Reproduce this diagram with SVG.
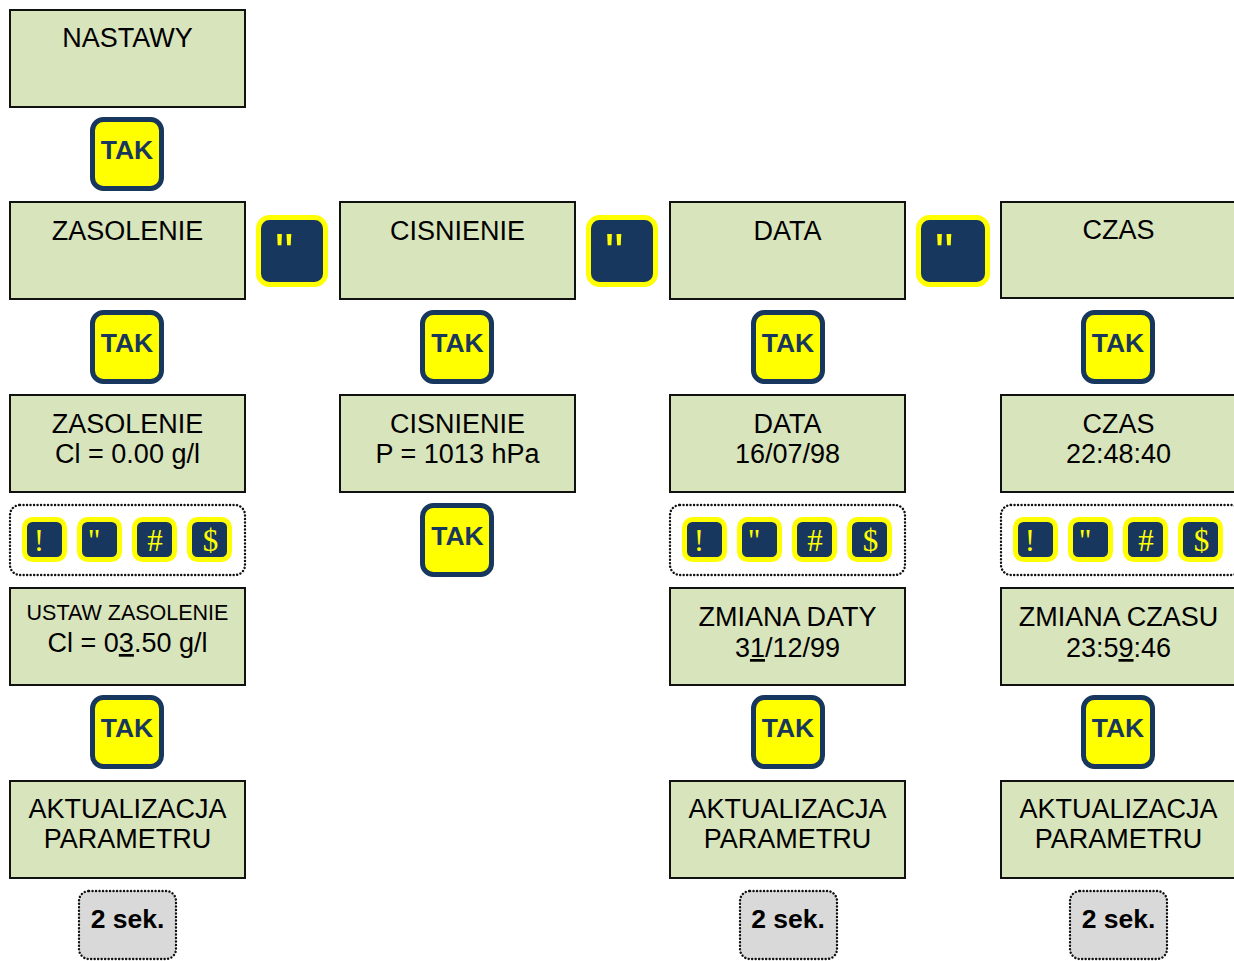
<svg xmlns="http://www.w3.org/2000/svg" width="1234" height="961" viewBox="0 0 1234 961">
<style>
.box{fill:#d8e4bc;stroke:#111;stroke-width:2}
.t{font-family:"Liberation Sans",Arial,sans-serif;font-size:27px;fill:#000;text-anchor:middle}
.ts{font-family:"Liberation Sans",Arial,sans-serif;font-size:21.5px;fill:#000;text-anchor:middle}
.tak{fill:#ffff00;stroke:#17375e;stroke-width:5}
.takt{font-family:"Liberation Sans",Arial,sans-serif;font-size:26.5px;font-weight:bold;fill:#17375e;text-anchor:middle}
.key{fill:#17375e;stroke:#ffff00;stroke-width:5}
.bq{font-family:"Liberation Sans",Arial,sans-serif;font-size:52px;fill:#ffff00}
.kg{font-family:"Liberation Serif","Times New Roman",serif;font-size:31px;fill:#ffff00;text-anchor:middle}
.dot{fill:none;stroke:#111;stroke-width:2.4;stroke-linecap:round;stroke-dasharray:0.1 3.4}
.sek{fill:#d9d9d9;stroke:#111;stroke-width:2.4;stroke-linecap:round;stroke-dasharray:0.1 3.4}
.sekt{font-family:"Liberation Sans",Arial,sans-serif;font-size:26.5px;font-weight:bold;fill:#000;text-anchor:middle}
</style>
<rect width="1234" height="961" fill="#fff"/>
<g id="connectors"/>

<!-- Column 1 -->
<g id="nastawy"><rect class="box" x="10" y="10" width="235" height="97"/><text class="t" x="127.5" y="47">NASTAWY</text></g>
<g id="tak1"><rect class="tak" x="92.5" y="119.5" width="69" height="69" rx="11"/><text class="takt" x="127" y="159">TAK</text></g>
<g id="zasolenie"><rect class="box" x="10" y="202" width="235" height="97"/><text class="t" x="127.5" y="240">ZASOLENIE</text></g>
<g id="key-next-1"><rect class="key" x="258.5" y="217.5" width="67" height="67" rx="11"/><text class="bq" x="275" y="270">"</text></g>
<g id="tak2"><rect class="tak" x="92.5" y="312.5" width="69" height="69" rx="11"/><text class="takt" x="127" y="352">TAK</text></g>
<g id="zasolenie-val"><rect class="box" x="10" y="395" width="235" height="97"/><text class="t" x="127.5" y="433">ZASOLENIE</text><text class="t" x="127.5" y="463">Cl = 0.00 g/l</text></g>
<g id="keys-1">
<rect class="dot" x="10" y="505" width="235" height="70" rx="10"/>
<rect class="key" x="24.5" y="519.5" width="40" height="40" rx="8"/><text class="kg" x="39" y="551">!</text>
<rect class="key" x="79.5" y="519.5" width="40" height="40" rx="8"/><text class="kg" x="94" y="551">"</text>
<rect class="key" x="134.5" y="519.5" width="40" height="40" rx="8"/><text class="kg" x="155" y="551">#</text>
<rect class="key" x="189.5" y="519.5" width="40" height="40" rx="8"/><text class="kg" x="210.5" y="551">$</text>
</g>
<g id="ustaw-zasolenie"><rect class="box" x="10" y="588" width="235" height="97"/><text class="ts" x="127.5" y="620">USTAW ZASOLENIE</text><text class="t" x="127.5" y="652">Cl = 0<tspan text-decoration="underline">3</tspan>.50 g/l</text></g>
<g id="tak3"><rect class="tak" x="92.5" y="697.5" width="69" height="69" rx="11"/><text class="takt" x="127" y="737">TAK</text></g>
<g id="aktualizacja-1"><rect class="box" x="10" y="781" width="235" height="97"/><text class="t" x="127.5" y="818">AKTUALIZACJA</text><text class="t" x="127.5" y="848">PARAMETRU</text></g>
<g id="sek-1"><rect class="sek" x="79" y="891" width="97" height="68" rx="10"/><text class="sekt" x="127.5" y="928">2 sek.</text></g>

<!-- Column 2 -->
<g id="cisnienie"><rect class="box" x="340" y="202" width="235" height="97"/><text class="t" x="457.5" y="240">CISNIENIE</text></g>
<g id="key-next-2"><rect class="key" x="588.5" y="217.5" width="67" height="67" rx="11"/><text class="bq" x="605" y="270">"</text></g>
<g id="tak4"><rect class="tak" x="422.5" y="312.5" width="69" height="69" rx="11"/><text class="takt" x="457.5" y="352">TAK</text></g>
<g id="cisnienie-val"><rect class="box" x="340" y="395" width="235" height="97"/><text class="t" x="457.5" y="433">CISNIENIE</text><text class="t" x="457.5" y="463">P = 1013 hPa</text></g>
<g id="tak5"><rect class="tak" x="422.5" y="505.5" width="69" height="69" rx="11"/><text class="takt" x="457.5" y="545">TAK</text></g>

<!-- Column 3 -->
<g id="data"><rect class="box" x="670" y="202" width="235" height="97"/><text class="t" x="787.5" y="240">DATA</text></g>
<g id="key-next-3"><rect class="key" x="918.5" y="217.5" width="69" height="67" rx="11"/><text class="bq" x="935" y="270">"</text></g>
<g id="tak6"><rect class="tak" x="753.5" y="312.5" width="69" height="69" rx="11"/><text class="takt" x="788" y="352">TAK</text></g>
<g id="data-val"><rect class="box" x="670" y="395" width="235" height="97"/><text class="t" x="787.5" y="433">DATA</text><text class="t" x="787.5" y="463">16/07/98</text></g>
<g id="keys-3">
<rect class="dot" x="670" y="505" width="235" height="70" rx="10"/>
<rect class="key" x="684.5" y="519.5" width="40" height="40" rx="8"/><text class="kg" x="699" y="551">!</text>
<rect class="key" x="739.5" y="519.5" width="40" height="40" rx="8"/><text class="kg" x="754" y="551">"</text>
<rect class="key" x="794.5" y="519.5" width="40" height="40" rx="8"/><text class="kg" x="815" y="551">#</text>
<rect class="key" x="849.5" y="519.5" width="40" height="40" rx="8"/><text class="kg" x="870.5" y="551">$</text>
</g>
<g id="zmiana-daty"><rect class="box" x="670" y="588" width="235" height="97"/><text class="t" x="787.5" y="626">ZMIANA DATY</text><text class="t" x="787.5" y="657">3<tspan text-decoration="underline">1</tspan>/12/99</text></g>
<g id="tak7"><rect class="tak" x="753.5" y="697.5" width="69" height="69" rx="11"/><text class="takt" x="788" y="737">TAK</text></g>
<g id="aktualizacja-3"><rect class="box" x="670" y="781" width="235" height="97"/><text class="t" x="787.5" y="818">AKTUALIZACJA</text><text class="t" x="787.5" y="848">PARAMETRU</text></g>
<g id="sek-3"><rect class="sek" x="740" y="891" width="97" height="68" rx="10"/><text class="sekt" x="788" y="928">2 sek.</text></g>

<!-- Column 4 -->
<g id="czas"><rect class="box" x="1001" y="202" width="240" height="96"/><text class="t" x="1118.5" y="239">CZAS</text></g>
<g id="tak8"><rect class="tak" x="1083.5" y="312.5" width="69" height="69" rx="11"/><text class="takt" x="1118" y="352">TAK</text></g>
<g id="czas-val"><rect class="box" x="1001" y="395" width="240" height="97"/><text class="t" x="1118.5" y="433">CZAS</text><text class="t" x="1118.5" y="463">22:48:40</text></g>
<g id="keys-4">
<rect class="dot" x="1001" y="505" width="240" height="70" rx="10"/>
<rect class="key" x="1015.5" y="519.5" width="40" height="40" rx="8"/><text class="kg" x="1030" y="551">!</text>
<rect class="key" x="1070.5" y="519.5" width="40" height="40" rx="8"/><text class="kg" x="1085" y="551">"</text>
<rect class="key" x="1125.5" y="519.5" width="40" height="40" rx="8"/><text class="kg" x="1146" y="551">#</text>
<rect class="key" x="1180.5" y="519.5" width="40" height="40" rx="8"/><text class="kg" x="1201.5" y="551">$</text>
</g>
<g id="zmiana-czasu"><rect class="box" x="1001" y="588" width="240" height="97"/><text class="t" x="1118.5" y="626">ZMIANA CZASU</text><text class="t" x="1118.5" y="657">23:5<tspan text-decoration="underline">9</tspan>:46</text></g>
<g id="tak9"><rect class="tak" x="1083.5" y="697.5" width="69" height="69" rx="11"/><text class="takt" x="1118" y="737">TAK</text></g>
<g id="aktualizacja-4"><rect class="box" x="1001" y="781" width="240" height="97"/><text class="t" x="1118.5" y="818">AKTUALIZACJA</text><text class="t" x="1118.5" y="848">PARAMETRU</text></g>
<g id="sek-4"><rect class="sek" x="1070" y="891" width="97" height="68" rx="10"/><text class="sekt" x="1118.5" y="928">2 sek.</text></g>
</svg>
